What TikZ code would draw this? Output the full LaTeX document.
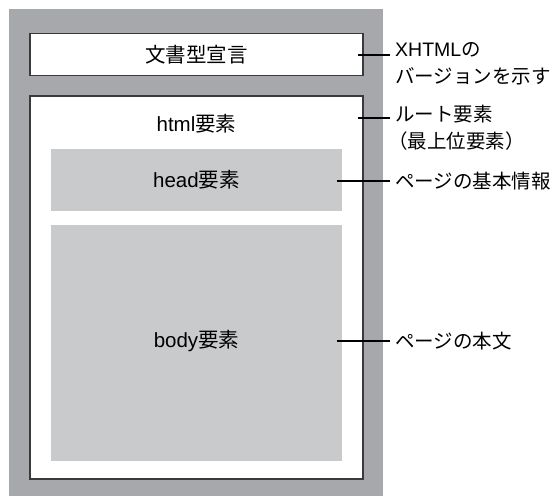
\documentclass[tikz,border=0pt]{standalone}
\usepackage{fontspec}
\setmainfont{Noto Sans CJK JP}
\newfontfamily\lat{Liberation Sans}
\definecolor{outergray}{HTML}{A7A8AB}
\definecolor{innergray}{HTML}{C9CACC}
\definecolor{edge}{HTML}{3A3A3A}
\begin{document}
\begin{tikzpicture}[x=1pt,y=-1pt,
  txt/.style={font=\fontsize{20.5}{27}\selectfont, text=black},
  whitebox/.style={draw=edge, line width=1.3pt, fill=white, inner sep=0pt},
  graybox/.style={fill=innergray, inner sep=0pt},
  lbl/.style={font=\fontsize{19.5}{27}\selectfont, text=black, anchor=north west, align=left, inner sep=0pt},
  conn/.style={draw=black, line width=1.6pt}]
\useasboundingbox (0,0) rectangle (553,496);
\fill[outergray] (9,9.3) rectangle (383,496);
\node[whitebox, minimum width=333pt, minimum height=42pt, txt] (doctype) at (196.5,54.7) {文書型宣言};
\node[whitebox, minimum width=333pt, minimum height=383pt] (html) at (196.5,287.5) {};
\node[txt, inner sep=0pt] (htmltxt) at (196.5,124) {{\lat html}要素};
\node[graybox, minimum width=291pt, minimum height=62pt, txt] (head) at (196.5,180) {{\lat head}要素};
\node[graybox, minimum width=291pt, minimum height=236pt, txt] (body) at (196.5,343) {};
\node[txt, inner sep=0pt] (bodytxt) at (196.5,341) {{\lat body}要素};
% labels
\node[lbl] (l1) at (395,42) {{\lat XHTML}の\\バージョンを示す};
\node[lbl] (l2) at (395,105) {ルート要素\\\hspace*{-7pt}（最上位要素）};
\node[lbl, anchor=west] (l3) at (395,180.7) {ページの基本情報};
\node[lbl, anchor=west] (l4) at (395,340.7) {ページの本文};
% connectors
\coordinate (c1) at (358,55);
\coordinate (c2) at (358,118);
\coordinate (c3) at (337,180.7);
\coordinate (c4) at (337,340.7);
\draw[conn] (c1) -- ([xshift=-5pt]c1 -| l1.west);
\draw[conn] (c2) -- ([xshift=-5pt]c2 -| l1.west);
\draw[conn] (c3) -- ([xshift=-5pt]c3 -| l3.west);
\draw[conn] (c4) -- ([xshift=-5pt]c4 -| l4.west);
\end{tikzpicture}
\end{document}
